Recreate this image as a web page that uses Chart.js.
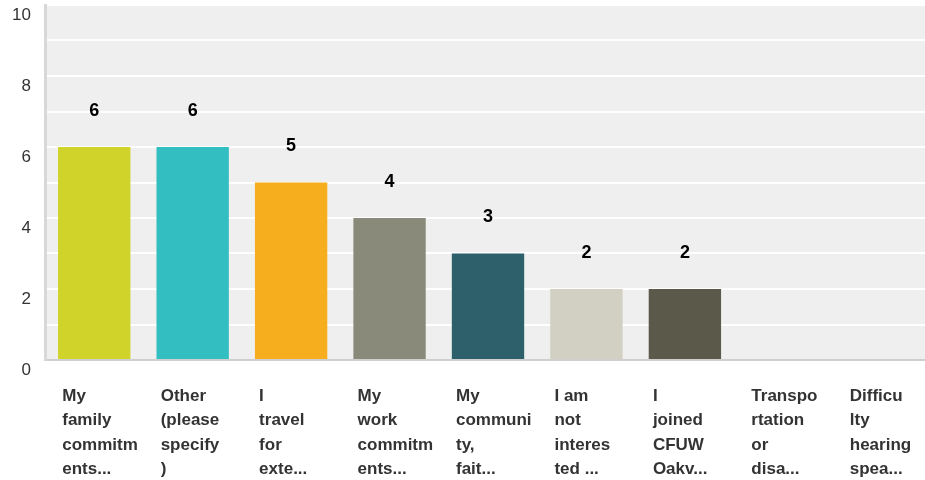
<!DOCTYPE html>
<html><head><meta charset="utf-8">
<script src="https://cdn.jsdelivr.net/npm/chart.js@4.4.0/dist/chart.umd.min.js"></script>
<style>html,body{margin:0;padding:0;background:#fff;overflow:hidden}#wrap{width:925px;height:480px;overflow:hidden}</style>
</head><body><div id="wrap"><canvas id="c" width="931" height="480"></canvas></div>
<script>
const categories = [
  ["My","family","commitm","ents..."],
  ["Other","(please","specify",")"],
  ["I","travel","for","exte..."],
  ["My","work","commitm","ents..."],
  ["My","communi","ty,","fait..."],
  ["I am","not","interes","ted ..."],
  ["I","joined","CFUW","Oakv..."],
  ["Transpo","rtation","or","disa..."],
  ["Difficu","lty","hearing","spea..."]
];
const values = [6, 6, 5, 4, 3, 2, 2, 0, 0];
const barColors = ["#d0d329","#33bec1","#f7ae1e","#8a8a7a","#2e606c","#d1d0c2","#5b5a4a","#999999","#999999"];
const yTicks = [0, 2, 4, 6, 8, 10];

const bgPlugin = {
  id: 'bg',
  beforeDraw(chart) {
    const {ctx, chartArea: a} = chart;
    ctx.save(); ctx.fillStyle = '#efefef';
    ctx.fillRect(a.left, a.top, a.right - a.left, a.bottom - a.top);
    ctx.restore();
  }
};
const valuePlugin = {
  id: 'vals',
  afterDatasetsDraw(chart) {
    const {ctx} = chart;
    const meta = chart.getDatasetMeta(0);
    ctx.save();
    ctx.font = 'bold 18px "Liberation Sans", Arial, sans-serif';
    ctx.fillStyle = '#000'; ctx.textAlign = 'center'; ctx.textBaseline = 'middle';
    meta.data.forEach((bar, i) => {
      if (values[i] > 0) ctx.fillText(String(values[i]), bar.x, bar.y - 36);
    });
    ctx.restore();
  }
};

new Chart(document.getElementById('c'), {
  type: 'bar',
  data: { labels: categories, datasets: [{ data: values, backgroundColor: barColors, barPercentage: 0.735, categoryPercentage: 1.0 }] },
  plugins: [bgPlugin, valuePlugin],
  options: {
    responsive: false, animation: false,
    layout: { padding: { top: 5, right: 0, left: 0, bottom: 0 } },
    plugins: { legend: { display: false }, tooltip: { enabled: false } },
    scales: {
      x: {
        grid: { display: false, drawTicks: false },
        border: { display: true, color: '#cfcfcf', width: 2 },
        ticks: {
          autoSkip: false, maxRotation: 0, minRotation: 0, align: 'start', labelOffset: -32, padding: 24,
          color: '#333', font: { family: '"Liberation Sans", Arial, sans-serif', size: 17, weight: 'bold', lineHeight: 1.44 }
        },
        afterFit(s) { s.height = 120; s.paddingLeft = 0; s.paddingRight = 0; }
      },
      y: {
        min: 0, max: 10,
        grid: { color: '#ffffff', lineWidth: 2, drawTicks: false },
        border: { display: true, color: '#d8d8d8', width: 3 },
        ticks: {
          stepSize: 1, padding: 14, labelOffset: 10,
          color: '#333', font: { family: '"Liberation Sans", Arial, sans-serif', size: 17 },
          callback: (v) => yTicks.includes(v) ? String(v) : ''
        },
        afterFit(s) { s.width = 45; s.paddingTop = 0; s.paddingBottom = 0; }
      }
    }
  }
});
</script></body></html>
